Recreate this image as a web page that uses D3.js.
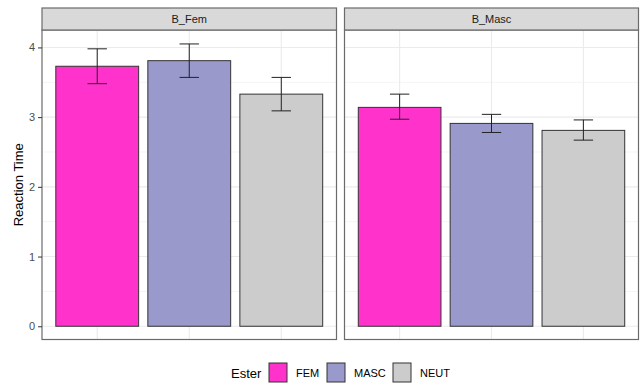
<!DOCTYPE html>
<html><head><meta charset="utf-8">
<script src="https://cdn.jsdelivr.net/npm/d3@7"></script>
<style>body{margin:0;background:#fff}svg{display:block}text{font-family:"Liberation Sans",Arial,sans-serif}</style>
</head><body>
<script>
const panels = ["B_Fem", "B_Masc"];
const categories = ["FEM", "MASC", "NEUT"];
const colors = ["#ff33cc", "#9999cc", "#cccccc"];
const means = { B_Fem: [3.73, 3.81, 3.33], B_Masc: [3.14, 2.91, 2.81] };
const errLow = { B_Fem: [3.48, 3.57, 3.09], B_Masc: [2.97, 2.78, 2.67] };
const errHigh = { B_Fem: [3.98, 4.05, 3.57], B_Masc: [3.33, 3.04, 2.96] };
const yTicks = [0, 1, 2, 3, 4];
const yMinor = [0.5, 1.5, 2.5, 3.5];
const yTitle = "Reaction Time";
const legendTitle = "Ester";

(function () {
const W = 644, H = 385;
const svg = d3.select("body").append("svg").attr("width", W).attr("height", H);
const pTop = 30, pBottom = 339.5, stripTop = 8;
const panelX = [[42, 336.5], [344.5, 638.5]];
const y = d3.scaleLinear().domain([-0.19, 4.25]).range([pBottom, pTop]);
const border = "#6b6b6b";

panels.forEach((p, i) => {
  const [x0, x1] = panelX[i];
  const x = d3.scaleBand().domain(categories).range([x0, x1]).paddingInner(0.1).paddingOuter(0.15);
  const g = svg.append("g");
  g.selectAll(".mn").data(yMinor).join("line").attr("x1", x0).attr("x2", x1)
    .attr("y1", d => y(d)).attr("y2", d => y(d)).attr("stroke", "#f3f3f3").attr("stroke-width", 0.8);
  g.selectAll(".mj").data(yTicks).join("line").attr("x1", x0).attr("x2", x1)
    .attr("y1", d => y(d)).attr("y2", d => y(d)).attr("stroke", "#ebebeb").attr("stroke-width", 1.1);
  g.selectAll(".vx").data(categories).join("line").attr("y1", pTop).attr("y2", pBottom)
    .attr("x1", d => x(d) + x.bandwidth() / 2).attr("x2", d => x(d) + x.bandwidth() / 2)
    .attr("stroke", "#ebebeb").attr("stroke-width", 1.1);
  g.selectAll(".bar").data(categories).join("rect")
    .attr("x", d => x(d)).attr("width", x.bandwidth())
    .attr("y", (d, j) => y(means[p][j])).attr("height", (d, j) => y(0) - y(means[p][j]))
    .attr("fill", (d, j) => colors[j]).attr("stroke", "#333").attr("stroke-width", 1);
  const cap = x.step() * 0.2 / 2 + 0.5;
  categories.forEach((c, j) => {
    const cx = x(c) + x.bandwidth() / 2;
    const eg = g.append("g").attr("stroke", "#222").attr("stroke-width", 1).attr("fill", "none");
    eg.append("line").attr("x1", cx).attr("x2", cx).attr("y1", y(errLow[p][j])).attr("y2", y(errHigh[p][j]));
    eg.append("line").attr("x1", cx - cap).attr("x2", cx + cap).attr("y1", y(errLow[p][j])).attr("y2", y(errLow[p][j]));
    eg.append("line").attr("x1", cx - cap).attr("x2", cx + cap).attr("y1", y(errHigh[p][j])).attr("y2", y(errHigh[p][j]));
  });
  g.append("rect").attr("x", x0).attr("y", pTop).attr("width", x1 - x0).attr("height", pBottom - pTop)
    .attr("fill", "none").attr("stroke", border).attr("stroke-width", 1.2);
  g.append("rect").attr("x", x0).attr("y", stripTop).attr("width", x1 - x0).attr("height", pTop - stripTop)
    .attr("fill", "#d9d9d9").attr("stroke", border).attr("stroke-width", 1.2);
  g.append("text").attr("x", (x0 + x1) / 2).attr("y", (stripTop + pTop) / 2).attr("dy", "0.35em")
    .attr("text-anchor", "middle").attr("font-size", 11).attr("fill", "#1a1a1a").text(p);
});

const ya = svg.append("g").attr("transform", `translate(${panelX[0][0]},0)`)
  .call(d3.axisLeft(y).tickValues(yTicks).tickSize(4).tickPadding(3).tickFormat(d3.format("d")));
ya.select(".domain").remove();
ya.selectAll(".tick line").attr("stroke", "#333").attr("stroke-width", 1);
ya.selectAll(".tick text").attr("fill", "#4d4d4d").attr("font-size", 11).attr("font-family", "Liberation Sans, Arial, sans-serif");

svg.append("text").attr("transform", `translate(18,${(pTop + pBottom) / 2}) rotate(-90)`)
  .attr("text-anchor", "middle").attr("dy", "0.35em").attr("font-size", 13).attr("fill", "#000").text(yTitle);

const lg = svg.append("g");
lg.append("text").attr("x", 231).attr("y", 373).attr("dy", "0.35em").attr("font-size", 13).attr("fill", "#000").text(legendTitle);
const keyX = [269, 327, 393];
categories.forEach((c, j) => {
  lg.append("rect").attr("x", keyX[j]).attr("y", 363).attr("width", 18).attr("height", 19)
    .attr("fill", colors[j]).attr("stroke", "#333").attr("stroke-width", 1);
  lg.append("text").attr("x", keyX[j] + 27).attr("y", 373).attr("dy", "0.35em").attr("font-size", 11)
    .attr("fill", "#000").text(c);
});
})();
</script>
</body></html>
